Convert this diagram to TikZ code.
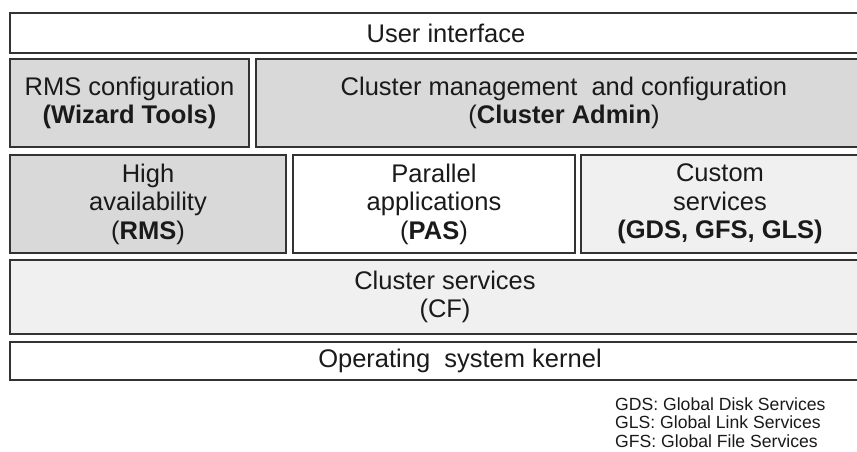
\documentclass[tikz,border=0pt]{standalone}
\usepackage{fontspec}
\setmainfont{Liberation Sans}
\definecolor{boxdark}{HTML}{D9D9D9}
\definecolor{boxlight}{HTML}{F0F0F0}
\definecolor{edge}{HTML}{333333}
\definecolor{ink}{HTML}{1A1A1A}
\begin{document}
\begin{tikzpicture}[x=1pt,y=-1pt,
  box/.style={draw=edge,line width=1.6pt,rectangle,inner sep=0pt,outer sep=0pt,
    anchor=north west,align=center,text=ink,font=\fontsize{25.5}{28.5}\selectfont},
  legend/.style={anchor=base west,inner sep=0pt,align=left,text=ink,
    font=\fontsize{17.6}{18.5}\selectfont}]
\clip (0,0) rectangle (857,452);
\fill[white] (0,0) rectangle (857,452);
\node[box,fill=white,minimum width=872pt,minimum height=40pt] (ui) at (10,13) {User interface};
\node[box,fill=boxdark,minimum width=239pt,minimum height=88pt] (rms) at (10,59)
  {RMS configuration\\\textbf{(Wizard Tools)}};
\node[box,fill=boxdark,minimum width=616pt,minimum height=88pt] (cam) at (256,59)
  {Cluster management\ \ and configuration\\(\textbf{Cluster Admin})};
\node[box,fill=boxdark,minimum width=276pt,minimum height=98pt] (ha) at (10,155)
  {High\\availability\\(\textbf{RMS})};
\node[box,fill=white,minimum width=282pt,minimum height=98pt] (pas) at (293,155)
  {Parallel\\applications\\(\textbf{PAS})};
\node[box,fill=boxlight,minimum width=278pt,minimum height=98pt] (cus) at (581,155)
  {Custom\\services\\\textbf{(GDS, GFS, GLS)}};
\node[box,fill=boxlight,minimum width=870pt,minimum height=74pt] (cf) at (10,260)
  {Cluster services\\(CF)};
\node[box,fill=white,minimum width=900pt,minimum height=38pt] (os) at (10,342)
  {Operating\ \ system kernel};
\node[legend] (leg) at (615,447)
  {GDS: Global Disk Services\\GLS: Global Link Services\\GFS: Global File Services};
\end{tikzpicture}
\end{document}
